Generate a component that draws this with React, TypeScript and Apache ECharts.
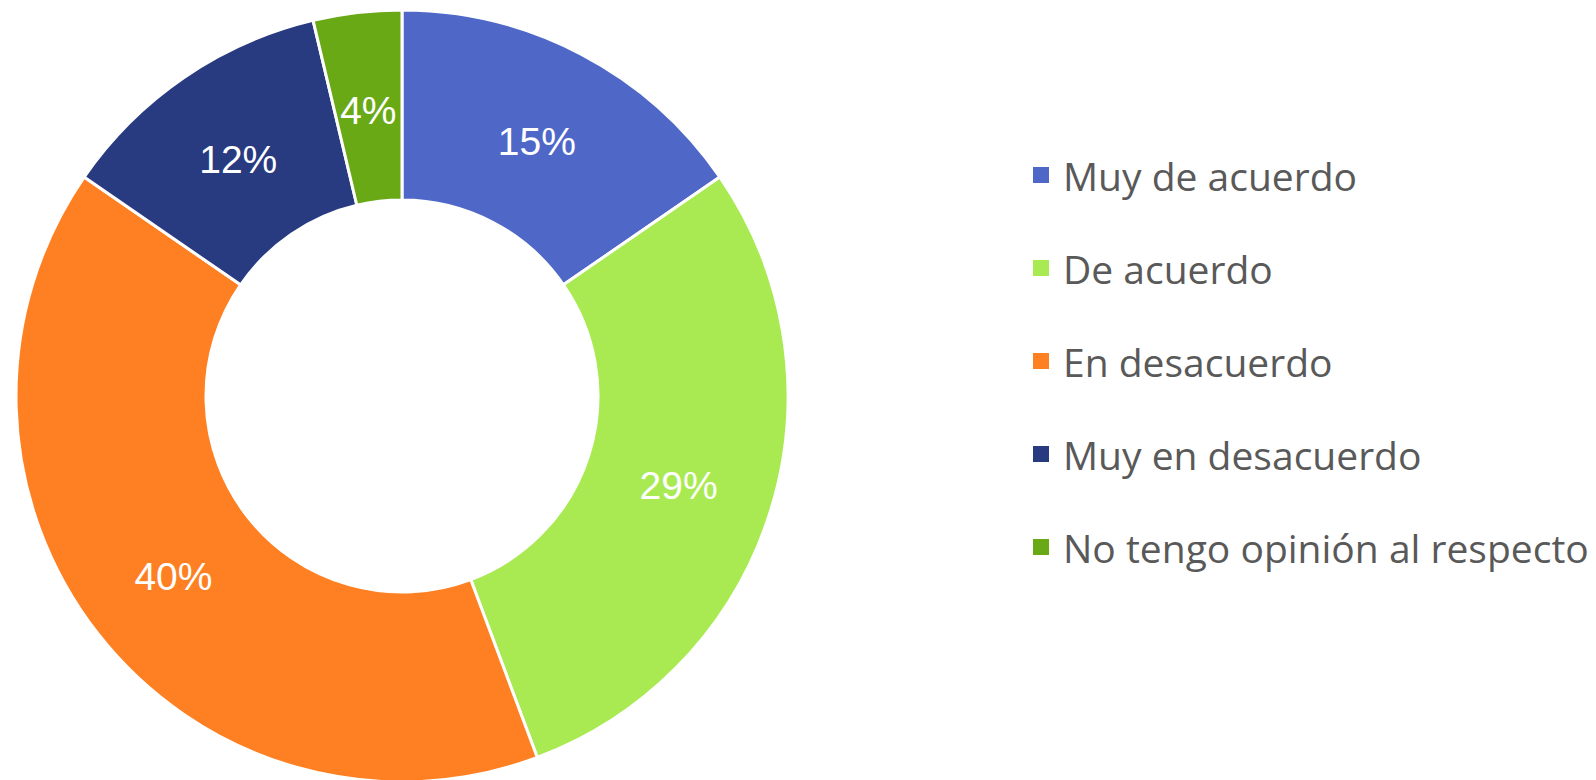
import React, { useEffect, useRef } from "react";
import * as echarts from "echarts";

const categories = [
  "Muy de acuerdo",
  "De acuerdo",
  "En desacuerdo",
  "Muy en desacuerdo",
  "No tengo opinión al respecto",
];
const values = [15.4, 28.9, 40.3, 11.7, 3.7];
const colors = ["#4F68C8", "#A9EA52", "#FE8022", "#283A80", "#69A916"];

const CX = 402;
const CY = 396;

export default function App() {
  const ref = useRef<HTMLDivElement>(null);
  useEffect(() => {
    if (!ref.current) return;
    const chart = echarts.init(ref.current, null, { renderer: "svg" });
    chart.setOption({
      animation: false,
      color: colors,
      legend: {
        orient: "vertical",
        left: 1031,
        top: 154,
        padding: 0,
        itemWidth: 18,
        itemHeight: 18,
        itemGap: 51,
        icon: "rect",
        data: categories,
        textStyle: {
          color: "#595959",
          fontSize: 39,
          lineHeight: 42,
          fontFamily: "Open Sans",
          padding: [0, 0, 0, 8],
        },
      },
      series: [
        {
          type: "pie",
          center: [CX, CY],
          radius: [196, 386],
          startAngle: 90,
          clockwise: true,
          avoidLabelOverlap: false,
          itemStyle: { borderColor: "#ffffff", borderWidth: 3 },
          label: {
            show: true,
            position: "inside",
            formatter: (p: any) => Math.round(p.percent) + "%",
            color: "#ffffff",
            fontSize: 39,
            fontFamily: "Liberation Sans",
          },
          labelLayout: (p: any) => {
            const r = p.labelRect;
            const vx = r.x + r.width / 2 - CX;
            const vy = r.y + r.height / 2 - CY;
            const len = Math.sqrt(vx * vx + vy * vy) || 1;
            return { dx: (-4 * vx) / len, dy: (-4 * vy) / len + 2.5 };
          },
          labelLine: { show: false },
          emphasis: { disabled: true },
          data: categories.map((name, i) => ({ name, value: values[i] })),
        },
      ],
    });
    return () => chart.dispose();
  }, []);
  return (
    <div
      ref={ref}
      style={{ position: "fixed", left: 0, top: 0, width: 1596, height: 780, background: "#fff" }}
    />
  );
}
